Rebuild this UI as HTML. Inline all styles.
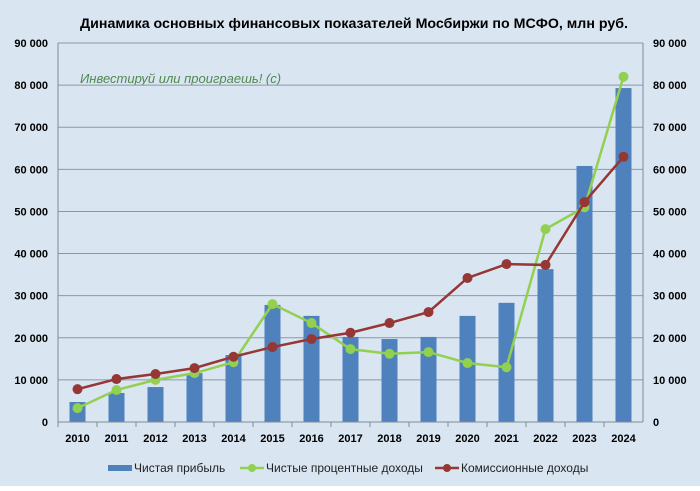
<!DOCTYPE html>
<html><head><meta charset="utf-8"><style>
body{margin:0;background:#fff}
svg text{font-family:"Liberation Sans",sans-serif}
</style></head><body>
<svg id="c" width="700" height="486" xmlns="http://www.w3.org/2000/svg">
<rect x="0" y="0" width="700" height="486" fill="#dae5f2"/>
<text x="354" y="28" text-anchor="middle" font-size="14" font-weight="bold" fill="#000" textLength="548" lengthAdjust="spacingAndGlyphs">Динамика основных финансовых показателей Мосбиржи по МСФО, млн руб.</text>
<text x="80" y="83" font-size="13" font-style="italic" fill="#4e8a4e" font-family="Liberation Serif, serif">Инвестируй или проиграешь! (с)</text>
<g id="grid"></g><g id="bars"></g><g id="lines"></g><g id="axes"></g>
<g>
<rect x="108" y="465" width="24" height="6" fill="#4f81bd"/>
<text x="134" y="472" font-size="12" fill="#222">Чистая прибыль</text>
<line x1="240" y1="468" x2="264" y2="468" stroke="#92d050" stroke-width="2.5"/>
<circle cx="252" cy="468" r="4" fill="#92d050"/>
<text x="266" y="472" font-size="12" fill="#222">Чистые процентные доходы</text>
<line x1="435" y1="468" x2="459" y2="468" stroke="#953735" stroke-width="2.5"/>
<circle cx="447" cy="468" r="4" fill="#953735"/>
<text x="461" y="472" font-size="12" fill="#222">Комиссионные доходы</text>
</g>
</svg>
<script>
const years=["2010","2011","2012","2013","2014","2015","2016","2017","2018","2019","2020","2021","2022","2023","2024"];
const profit=[4750,6900,8300,11600,15900,27800,25200,20200,19700,20200,25200,28300,36300,60800,79300];
const interest=[3300,7600,10000,11600,14200,28000,23500,17300,16200,16600,14000,13000,45800,51000,82000];
const fees=[7800,10200,11400,12800,15500,17800,19700,21200,23500,26100,34200,37500,37300,52200,63000];
const ticks=[0,10000,20000,30000,40000,50000,60000,70000,80000,90000];
const tickLabels=["0","10 000","20 000","30 000","40 000","50 000","60 000","70 000","80 000","90 000"];
const L=58,R=643,T=43,B=422,MAX=90000;
const NS="http://www.w3.org/2000/svg";
const bw=(R-L)/years.length;
function x(i){return L+bw*(i+0.5);}
function y(v){return B-(v/MAX)*(B-T);}
function mk(tag,p,attrs){const e=document.createElementNS(NS,tag);for(const k in attrs)e.setAttribute(k,attrs[k]);p.appendChild(e);return e;}
const grid=document.getElementById('grid'),axes=document.getElementById('axes'),bars=document.getElementById('bars'),lines=document.getElementById('lines');
ticks.forEach((t,i)=>{
  if(t>0){const g=mk('line',grid,{x1:L,x2:R,y1:y(t),y2:y(t),stroke:'#8a98a8','stroke-width':1});
  
  }
  const a=mk('text',axes,{x:L-10,y:y(t)+4,'text-anchor':'end','font-size':11,'font-weight':'bold',fill:'#000'});a.textContent=tickLabels[i];
  
  
  const b=mk('text',axes,{x:R+10,y:y(t)+4,'text-anchor':'start','font-size':11,'font-weight':'bold',fill:'#000'});b.textContent=tickLabels[i];
  
  
});
const ax=mk('line',axes,{x1:L,x2:R,y1:B,y2:B,stroke:'#7f8a96','stroke-width':1});


const la=mk('line',axes,{x1:L,x2:L,y1:T,y2:B,stroke:'#7f8a96','stroke-width':1});


const ra=mk('line',axes,{x1:R,x2:R,y1:T,y2:B,stroke:'#7f8a96','stroke-width':1});


years.forEach((yr,i)=>{
  const tk=mk('line',axes,{x1:L+bw*i,x2:L+bw*i,y1:B,y2:B+5,stroke:'#7f8a96'});
  
  
  const t=mk('text',axes,{x:x(i),y:B+20,'text-anchor':'middle','font-size':11,'font-weight':'bold',fill:'#000'});t.textContent=yr;
  
  
  const r=mk('rect',bars,{x:x(i)-8,y:y(profit[i]),width:16,height:B-y(profit[i]),fill:'#4f81bd'});
  
  
});
function series(vals,color,name){
  const pl=mk('polyline',lines,{points:vals.map((v,i)=>x(i)+','+y(v)).join(' '),fill:'none',stroke:color,'stroke-width':2.5});
  
  
  vals.forEach((v,i)=>{const c=mk('circle',lines,{cx:x(i),cy:y(v),r:5,fill:color});
  
  });
}
series(interest,'#92d050','interest');
series(fees,'#953735','fees');
</script>
</body></html>
